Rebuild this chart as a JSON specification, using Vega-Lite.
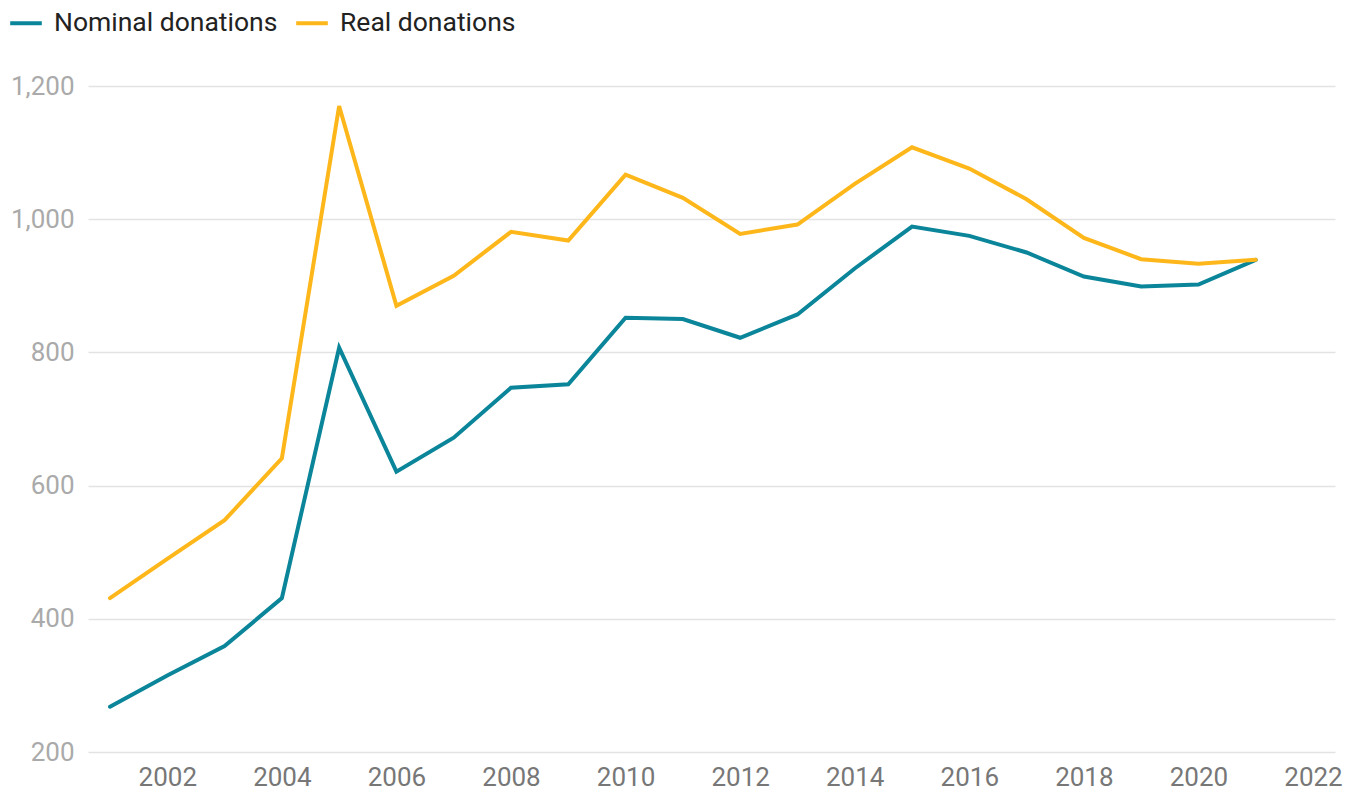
{
  "$schema": "https://vega.github.io/schema/vega-lite/v6.json",
  "width": 1247,
  "height": 666,
  "autosize": "none",
  "padding": {"left": 88, "top": 86, "right": 25, "bottom": 44},
  "background": "white",
  "config": {
    "view": {"stroke": null},
    "font": "Roboto"
  },
  "data": {
    "values": [
      {"year": 2001, "series": "Nominal donations", "value": 268},
      {"year": 2002, "series": "Nominal donations", "value": 315},
      {"year": 2003, "series": "Nominal donations", "value": 359},
      {"year": 2004, "series": "Nominal donations", "value": 431},
      {"year": 2005, "series": "Nominal donations", "value": 807},
      {"year": 2006, "series": "Nominal donations", "value": 621},
      {"year": 2007, "series": "Nominal donations", "value": 672},
      {"year": 2008, "series": "Nominal donations", "value": 747},
      {"year": 2009, "series": "Nominal donations", "value": 752},
      {"year": 2010, "series": "Nominal donations", "value": 852},
      {"year": 2011, "series": "Nominal donations", "value": 850},
      {"year": 2012, "series": "Nominal donations", "value": 822},
      {"year": 2013, "series": "Nominal donations", "value": 857},
      {"year": 2014, "series": "Nominal donations", "value": 926},
      {"year": 2015, "series": "Nominal donations", "value": 989},
      {"year": 2016, "series": "Nominal donations", "value": 975},
      {"year": 2017, "series": "Nominal donations", "value": 950},
      {"year": 2018, "series": "Nominal donations", "value": 914},
      {"year": 2019, "series": "Nominal donations", "value": 899},
      {"year": 2020, "series": "Nominal donations", "value": 902},
      {"year": 2021, "series": "Nominal donations", "value": 939},
      {"year": 2001, "series": "Real donations", "value": 431},
      {"year": 2002, "series": "Real donations", "value": 490},
      {"year": 2003, "series": "Real donations", "value": 548},
      {"year": 2004, "series": "Real donations", "value": 641},
      {"year": 2005, "series": "Real donations", "value": 1170},
      {"year": 2006, "series": "Real donations", "value": 870},
      {"year": 2007, "series": "Real donations", "value": 915},
      {"year": 2008, "series": "Real donations", "value": 981},
      {"year": 2009, "series": "Real donations", "value": 968},
      {"year": 2010, "series": "Real donations", "value": 1067},
      {"year": 2011, "series": "Real donations", "value": 1032},
      {"year": 2012, "series": "Real donations", "value": 978},
      {"year": 2013, "series": "Real donations", "value": 992},
      {"year": 2014, "series": "Real donations", "value": 1053},
      {"year": 2015, "series": "Real donations", "value": 1108},
      {"year": 2016, "series": "Real donations", "value": 1076},
      {"year": 2017, "series": "Real donations", "value": 1030},
      {"year": 2018, "series": "Real donations", "value": 972},
      {"year": 2019, "series": "Real donations", "value": 940},
      {"year": 2020, "series": "Real donations", "value": 933},
      {"year": 2021, "series": "Real donations", "value": 939}
    ]
  },
  "mark": {"type": "line", "strokeWidth": 4, "strokeJoin": "miter", "strokeCap": "round"},
  "encoding": {
    "x": {
      "field": "year",
      "type": "quantitative",
      "scale": {"domain": [2000.616, 2022.384], "nice": false, "zero": false},
      "axis": {
        "title": null,
        "values": [2002, 2004, 2006, 2008, 2010, 2012, 2014, 2016, 2018, 2020, 2022],
        "format": "d",
        "grid": false,
        "domain": false,
        "ticks": false,
        "labelFontSize": 26,
        "labelColor": "#777777",
        "labelPadding": 12,
        "labelFlush": false
      }
    },
    "y": {
      "field": "value",
      "type": "quantitative",
      "scale": {"domain": [200, 1200], "nice": false, "zero": false},
      "axis": {
        "title": null,
        "values": [200, 400, 600, 800, 1000, 1200],
        "format": ",.0f",
        "grid": true,
        "gridColor": "#e3e3e3",
        "gridWidth": 1.5,
        "domain": false,
        "ticks": false,
        "labelFontSize": 26,
        "labelColor": "#aaaaaa",
        "labelPadding": 14
      }
    },
    "color": {
      "field": "series",
      "type": "nominal",
      "scale": {"domain": ["Nominal donations", "Real donations"], "range": ["#0b8599", "#fdb71a"]},
      "legend": {
        "title": null,
        "orient": "none",
        "direction": "horizontal",
        "legendX": -80,
        "legendY": -81,
        "symbolType": "stroke",
        "symbolSize": 1000,
        "symbolStrokeWidth": 4,
        "labelFontSize": 26.5,
        "labelLimit": 400,
        "labelColor": "#222222",
        "labelOffset": 10,
        "columnPadding": 10
      }
    }
  }
}
